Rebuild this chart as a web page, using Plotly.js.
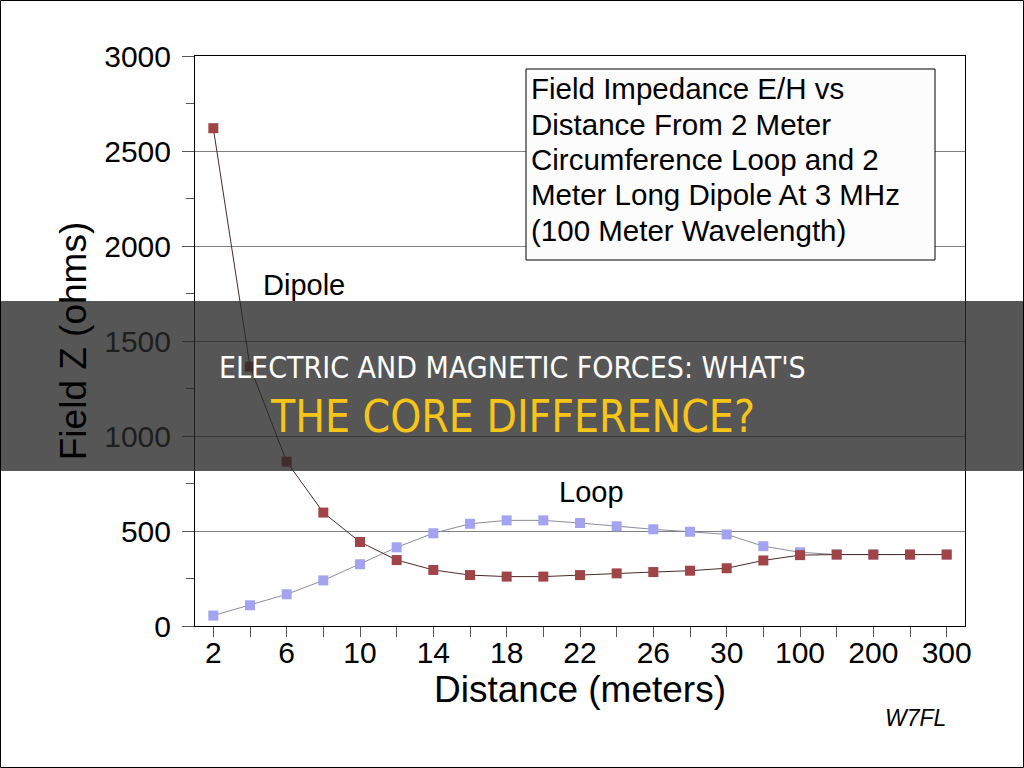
<!DOCTYPE html>
<html>
<head>
<meta charset="utf-8">
<script src="https://cdn.plot.ly/plotly-3.0.1.min.js"></script>
<style>
  html, body { margin: 0; padding: 0; background: #ffffff; }
  #chart { width: 1024px; height: 768px; }
</style>
</head>
<body>
<div id="chart"></div>
<script>
// Distance from the antenna (meters), one category per sample
const distances = ['2', '4', '6', '8', '10', '12', '14', '16', '18', '20', '22', '24', '26', '28', '30',
                   '50', '100', '150', '200', '250', '300'];

// Every other distance gets a printed tick label
const distanceLabels = ['2', '', '6', '', '10', '', '14', '', '18', '', '22', '', '26', '', '30',
                        '', '100', '', '200', '', '300'];

// Field impedance E/H (ohms) near a 2 m long dipole
const dipoleZ = [2620, 1365, 865, 597, 442, 347, 295, 268, 260, 260, 268, 277, 284, 291, 304,
                 345, 373, 376, 376, 376, 376];

// Field impedance E/H (ohms) near a 2 m circumference loop
const loopZ = [55, 109, 167, 240, 325, 414, 488, 538, 556, 556, 542, 525, 509, 496, 482,
               420, 388, 376, 376, 376, 376];

const yTicks = [0, 500, 1000, 1500, 2000, 2500, 3000];

// Caption lines for the boxed note
const captionLines = ['Field Impedance E/H vs', 'Distance From 2 Meter', 'Circumference Loop and 2',
                      'Meter Long Dipole At 3 MHz', '(100 Meter Wavelength)'];

const arial = 'Liberation Sans, Arial, sans-serif';
const narrow = 'Liberation Sans Narrow, Arial Narrow, DejaVu Sans Condensed, Roboto, sans-serif';

const traces = [
  {
    x: distances, y: loopZ, name: 'Loop', type: 'scatter', mode: 'lines+markers',
    line: { color: '#8c8c9c', width: 1 },
    marker: { symbol: 'square', size: 10, color: '#a3a3f2' },
    cliponaxis: false
  },
  {
    x: distances, y: dipoleZ, name: 'Dipole', type: 'scatter', mode: 'lines+markers',
    line: { color: '#4a2a2a', width: 1 },
    marker: { symbol: 'square', size: 10, color: '#a04448' },
    cliponaxis: false
  }
];

// Plot area spans 195..965 px horizontally and 56..626 px vertically
const L = 195, R = 965, T = 56, B = 626;
const px = v => (v - L) / (R - L);
const py = v => (B - v) / (B - T);

const captionAnnotations = captionLines.map((line, i) => ({
  xref: 'paper', yref: 'paper', x: px(529), y: py(89 + i * 35.3),
  xanchor: 'left', yanchor: 'middle', align: 'left', showarrow: false,
  text: line, font: { family: arial, size: 29.5, color: '#000000' }
}));

const layout = {
  width: 1024, height: 768,
  margin: { l: L, r: 1024 - R, t: T, b: 768 - B, pad: 0 },
  paper_bgcolor: '#ffffff', plot_bgcolor: '#ffffff',
  showlegend: false,
  font: { family: arial, color: '#000000' },
  xaxis: {
    type: 'category',
    range: [-0.5, distances.length - 0.5],
    tickmode: 'array', tickvals: distances, ticktext: distanceLabels,
    ticks: 'outside', ticklen: 10, tickcolor: '#555555', tickwidth: 1,
    tickfont: { family: arial, size: 30, color: '#000000' },
    ticklabelstandoff: -10,
    showline: true, linecolor: '#000000', linewidth: 1, mirror: true,
    showgrid: false, zeroline: false,
    title: { text: 'Distance (meters)', font: { family: arial, size: 37, color: '#000000' }, standoff: 8 },
    automargin: false
  },
  yaxis: {
    range: [0, 3000],
    tickmode: 'array', tickvals: yTicks,
    ticks: 'outside', ticklen: 12, tickcolor: '#555555', tickwidth: 1,
    minor: { dtick: 250, ticks: 'outside', ticklen: 8, tickcolor: '#555555', showgrid: false },
    tickfont: { family: arial, size: 30, color: '#000000' },
    ticklabelstandoff: 5,
    showline: true, linecolor: '#000000', linewidth: 1, mirror: true,
    showgrid: true, gridcolor: '#808080', gridwidth: 1, zeroline: false,
    title: { text: 'Field Z (ohms)', font: { family: arial, size: 37, color: '#000000' }, standoff: 6 },
    automargin: false
  },
  shapes: [
    // caption box
    { type: 'rect', xref: 'paper', yref: 'paper', x0: px(526), x1: px(935), y0: py(260), y1: py(69),
      fillcolor: '#fcfcfc', line: { color: '#000000', width: 1 }, layer: 'above' },
    // dark banner across the middle
    { type: 'rect', xref: 'paper', yref: 'paper', x0: px(0), x1: px(1024), y0: py(471), y1: py(301),
      fillcolor: 'rgba(38,38,38,0.78)', line: { width: 0 }, layer: 'above' },
    // outer frame
    { type: 'rect', xref: 'paper', yref: 'paper', x0: px(0.5), x1: px(1023.5), y0: py(767.5), y1: py(0.5),
      fillcolor: 'rgba(0,0,0,0)', line: { color: '#000000', width: 1 }, layer: 'above' }
  ],
  annotations: captionAnnotations.concat([
    { xref: 'paper', yref: 'paper', x: px(304), y: py(285), xanchor: 'center', yanchor: 'middle',
      showarrow: false, text: 'Dipole', font: { family: arial, size: 29, color: '#000000' } },
    { xref: 'paper', yref: 'paper', x: px(591), y: py(492), xanchor: 'center', yanchor: 'middle',
      showarrow: false, text: 'Loop', font: { family: arial, size: 29, color: '#000000' } },
    { xref: 'paper', yref: 'paper', x: px(948), y: py(718), xanchor: 'right', yanchor: 'middle',
      showarrow: false, text: 'W7FL', font: { family: arial, size: 23, color: '#000000', style: 'italic' } },
    { xref: 'paper', yref: 'paper', x: px(512), y: py(368), xanchor: 'center', yanchor: 'middle',
      showarrow: false, text: "ELECTRIC AND MAGNETIC FORCES: WHAT'S",
      font: { family: narrow, size: 30, color: '#ffffff' } },
    { xref: 'paper', yref: 'paper', x: px(512), y: py(416), xanchor: 'center', yanchor: 'middle',
      showarrow: false, text: 'THE CORE DIFFERENCE?',
      font: { family: narrow, size: 44, color: '#f6c518' } }
  ])
};

Plotly.newPlot('chart', traces, layout, { staticPlot: true, displayModeBar: false });
</script>
</body>
</html>
